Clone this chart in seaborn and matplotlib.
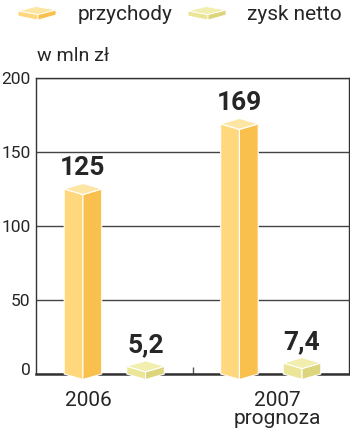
import matplotlib
matplotlib.use("Agg")
import matplotlib.pyplot as plt
import matplotlib.transforms as mtransforms
from matplotlib.patches import Polygon
import seaborn as sns
import pandas as pd

# ---- data ----
years = ["2006", "2007"]
year_labels = ["2006", "2007\nprognoza"]
series = ["przychody", "zysk netto"]
przychody = [125, 169]
zysk_netto = [5.2, 7.4]
y_ticks = [0, 50, 100, 150, 200]

df = pd.DataFrame({
    "rok": years * 2,
    "seria": [series[0]] * 2 + [series[1]] * 2,
    "wartosc": przychody + zysk_netto,
})

# colours: (left face, right face, top face)
face_cols = {
    "przychody": ("#FFD77C", "#F9C04E", "#FDE5A4"),
    "zysk netto": ("#EBE597", "#DDD57C", "#F2EEAE"),
}

sns.set_theme(style="white")
plt.rcParams["font.family"] = ["Roboto", "DejaVu Sans"]
TXT = "#262626"

W, H = 350, 429
fig = plt.figure(figsize=(W / 100, H / 100), dpi=100)
ax = fig.add_axes([36 / W, (H - 374) / H, (349 - 36) / W, (374 - 78) / H])

sns.barplot(data=df, x="rok", y="wartosc", hue="seria", hue_order=series,
            order=years, width=0.8, gap=0.4, legend=False, ax=ax,
            palette=[face_cols[s][0] for s in series])

ax.set_xlim(-0.5, 1.5)
ax.set_ylim(0, 200)

# depth offset in data units (~5.5 px)
d = 5.5 * 200 / 296

for cont, s in zip(ax.containers, series):
    lc, rc, tc = face_cols[s]
    for patch, v in zip(cont.patches, cont.datavalues):
        x0 = patch.get_x()
        w = patch.get_width()
        x1 = x0 + w
        xc = x0 + w / 2
        patch.set_visible(False)
        faces = [
            ([(x0, 0), (x0, v), (xc, v - d), (xc, -d)], lc),
            ([(xc, -d), (xc, v - d), (x1, v), (x1, 0)], rc),
            ([(x0, v), (xc, v + d), (x1, v), (xc, v - d)], tc),
        ]
        for pts, c in faces:
            ax.add_patch(Polygon(pts, closed=True, facecolor=c, edgecolor="white",
                                 linewidth=0.8, zorder=3, clip_on=False))
        lab = f"{v:g}".replace(".", ",")
        ax.annotate(lab, xy=(xc, v + d), xytext=(0, 6), textcoords="offset points",
                    ha="center", va="baseline", fontsize=19, fontweight="bold",
                    color=TXT, zorder=5)

# axes styling
for side in ["left", "right", "top"]:
    ax.spines[side].set_visible(True)
    ax.spines[side].set_color("#333333")
    ax.spines[side].set_linewidth(1.0)
ax.spines["bottom"].set_color("#333333")
ax.spines["bottom"].set_linewidth(1.8)

ax.set_yticks(y_ticks)
ax.set_yticklabels([str(t) for t in y_ticks])
ax.yaxis.grid(True, color="#444444", linewidth=1.0)
ax.set_axisbelow(True)
ax.tick_params(axis="y", length=0, pad=4, labelsize=12.5, labelcolor=TXT)
# raise the "0" label a bit
zero_lbl = ax.get_yticklabels()[0]
zero_lbl.set_transform(zero_lbl.get_transform() +
                       mtransforms.ScaledTranslation(0, 5 / 100, fig.dpi_scale_trans))

ax.set_xticks([0, 1])
ax.set_xticklabels(year_labels, fontsize=15, color=TXT, linespacing=0.95)
ax.tick_params(axis="x", length=0, pad=12)
offs = [-26, 7]
for lbl, o in zip(ax.get_xticklabels(), offs):
    lbl.set_transform(lbl.get_transform() +
                      mtransforms.ScaledTranslation(o / 100, 0, fig.dpi_scale_trans))
ax.set_xticks([0.5], minor=True)
ax.tick_params(axis="x", which="minor", direction="in", length=5, width=1,
               color="#555555", bottom=True)
ax.set_xlabel("")
ax.set_ylabel("")

# unit label
fig.text(37 / W, 1 - 61 / H, "w mln zł", fontsize=14, color=TXT,
         ha="left", va="baseline")


# legend icons + labels
def px(x, y):
    return (x / W, 1 - y / H)


def icon(xl, s):
    lc, rc, tc = face_cols[s]
    xr = xl + 38
    xm = xl + 20
    faces = [
        ([px(xl, 11), px(xl, 16), px(xm, 20), px(xm, 14.5)], lc),
        ([px(xm, 14.5), px(xm, 20), px(xr, 15), px(xr, 10)], rc),
        ([px(xl, 11), px(xl + 18, 6.5), px(xr, 10), px(xm, 14.5)], tc),
    ]
    for pts, c in faces:
        fig.patches.append(Polygon(pts, closed=True, facecolor=c, edgecolor="white",
                                   linewidth=0.6, transform=fig.transFigure))


icon(18, series[0])
icon(188, series[1])
fig.text(78 / W, 1 - 20 / H, series[0], fontsize=15, color=TXT,
         ha="left", va="baseline")
fig.text(247 / W, 1 - 20 / H, series[1], fontsize=15, color=TXT,
         ha="left", va="baseline")

fig.savefig("out.png", dpi=100, facecolor="white")
